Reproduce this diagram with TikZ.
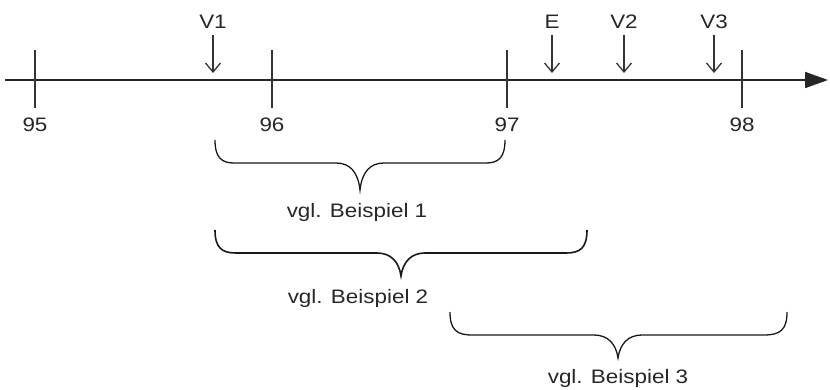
\documentclass[tikz,border=0pt]{standalone}
\usepackage{fontspec}
\setmainfont{Liberation Sans}[FakeStretch=1.15]
\usetikzlibrary{arrows.meta}
\begin{document}
\begin{tikzpicture}[x=1pt,y=-1pt,
  lbl/.style={text=black!85,font=\fontsize{19.5}{22}\selectfont,inner sep=0pt},
  axisline/.style={line width=1.8pt,black!85,-{Triangle[length=23pt,width=16pt]}},
  tickline/.style={line width=1.5pt,black!80},
  marker/.style={line width=1.3pt,black!80,-{Straight Barb[length=9pt,width=15pt,line width=1.3pt]}},
  bracepath/.style={line width=1.3pt,black!90}]
\useasboundingbox (0,0) rectangle (830,390);
% axis
\coordinate (a0) at (5,80);
\coordinate (a1) at (828,80);
\draw[axisline] (a0) -- (a1);
% ticks
\foreach \n/\x in {95/35,96/272,97/507,98/742}{
  \coordinate (t\n a) at (\x,50);
  \coordinate (t\n b) at (\x,108);
  \draw[tickline] (t\n a) -- (t\n b);
  \node[lbl] (l\n) at (\x,125) {\n};
}
% markers
\foreach \nm/\x in {V1/213,E/552,V2/624,V3/714}{
  \node[lbl] (m\nm) at (\x,22) {\nm};
  \coordinate (s\nm) at (\x,35);
  \coordinate (e\nm) at (\x,73);
  \draw[marker] (s\nm) -- (e\nm);
}
% brace 1
\coordinate (b1l) at (215,140);
\coordinate (b1t) at (360,190);
\coordinate (b1r) at (505,140);
\draw[bracepath] (b1l) .. controls (215,158) and (222,163) .. (234,163) -- (336,163)
  .. controls (350,163) and (358,172) .. (b1t)
  .. controls (362,172) and (370,163) .. (384,163) -- (486,163)
  .. controls (498,163) and (505,158) .. (b1r);
\node[lbl] (bsp1) at (357,212) {vgl. Beispiel 1};
% brace 2
\coordinate (b2l) at (215,230);
\coordinate (b2t) at (401,276);
\coordinate (b2r) at (587,230);
\draw[bracepath,line width=1.6pt] (b2l) .. controls (215,248) and (222,253) .. (236,253) -- (377,253)
  .. controls (391,253) and (399,262) .. (b2t)
  .. controls (403,262) and (411,253) .. (425,253) -- (566,253)
  .. controls (580,253) and (587,248) .. (b2r);
\node[lbl] (bsp2) at (358,298) {vgl. Beispiel 2};
% brace 3
\coordinate (b3l) at (450,312);
\coordinate (b3t) at (618,358);
\coordinate (b3r) at (787,312);
\draw[bracepath] (b3l) .. controls (450,330) and (457,335) .. (472,335) -- (594,335)
  .. controls (608,335) and (616,344) .. (b3t)
  .. controls (620,344) and (628,335) .. (642,335) -- (764,335)
  .. controls (780,335) and (787,330) .. (b3r);
\node[lbl] (bsp3) at (618,378) {vgl. Beispiel 3};
\end{tikzpicture}
\end{document}
